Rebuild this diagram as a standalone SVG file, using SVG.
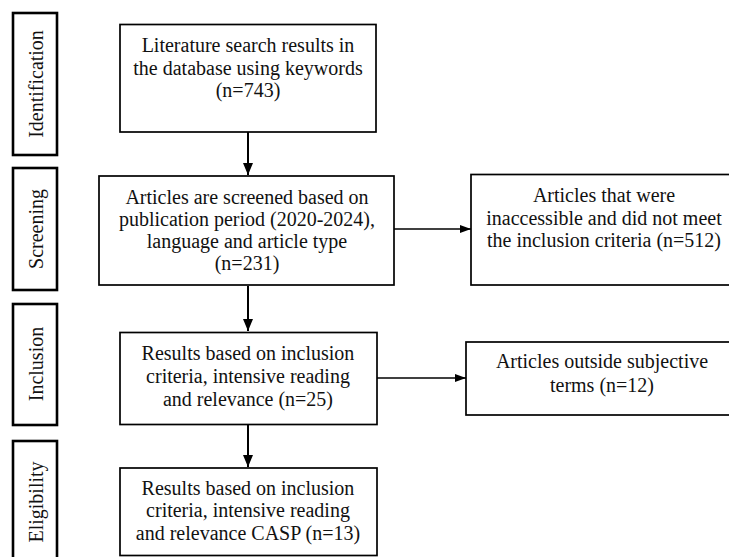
<svg xmlns="http://www.w3.org/2000/svg" width="729" height="557" viewBox="0 0 729 557">
<style>
  .side { fill: #fff; stroke: #000; stroke-width: 2.6; }
  .box { fill: #fff; stroke: #000; stroke-width: 1.7; }
  .t { font-family: "Liberation Serif", "Times New Roman", serif; font-size: 20px; fill: #111; text-anchor: middle; }
  .conn { stroke: #000; stroke-width: 2; fill: none; }
  .connh { stroke: #000; stroke-width: 1.6; fill: none; }
</style>
<defs>
  <marker id="arrV" markerUnits="userSpaceOnUse" markerWidth="12" markerHeight="12" viewBox="0 0 12 12" refX="12" refY="6" orient="auto">
    <path d="M0,1 L12,6 L0,11 Z" fill="#000"/>
  </marker>
  <marker id="arrH" markerUnits="userSpaceOnUse" markerWidth="11" markerHeight="10" viewBox="0 0 11 10" refX="11" refY="5" orient="auto">
    <path d="M0,1 L11,5 L0,9 Z" fill="#000"/>
  </marker>
</defs>
<rect width="729" height="557" fill="#fff"/>

<g id="stage-identification">
  <rect class="side" x="13" y="13" width="44" height="142"/>
  <text class="t" transform="translate(43,84) rotate(-90)">Identification</text>
</g>
<g id="stage-screening">
  <rect class="side" x="13" y="168" width="44" height="122"/>
  <text class="t" transform="translate(43,229) rotate(-90)">Screening</text>
</g>
<g id="stage-inclusion">
  <rect class="side" x="13" y="304" width="44" height="121"/>
  <text class="t" transform="translate(43,364) rotate(-90)">Inclusion</text>
</g>
<g id="stage-eligibility">
  <rect class="side" x="13" y="441" width="44" height="124"/>
  <text class="t" transform="translate(43,502) rotate(-90)">Eligibility</text>
</g>

<g id="connectors">
  <line class="conn" x1="248" y1="132" x2="248" y2="175" marker-end="url(#arrV)"/>
  <line class="connh" x1="394" y1="229" x2="471" y2="229" marker-end="url(#arrH)"/>
  <line class="conn" x1="248" y1="286" x2="248" y2="331" marker-end="url(#arrV)"/>
  <line class="connh" x1="377" y1="378" x2="466" y2="378" marker-end="url(#arrH)"/>
  <line class="conn" x1="248" y1="425" x2="248" y2="467" marker-end="url(#arrV)"/>
</g>

<g id="n-search">
  <rect class="box" x="120" y="24.5" width="256" height="107.5"/>
  <text class="t" x="248" y="52">Literature search results in</text>
  <text class="t" x="248" y="75">the database using keywords</text>
  <text class="t" x="248" y="97">(n=743)</text>
</g>
<g id="n-screened">
  <rect class="box" x="99" y="176" width="295" height="109"/>
  <text class="t" x="247" y="204">Articles are screened based on</text>
  <text class="t" x="247" y="226">publication period (2020-2024),</text>
  <text class="t" x="247" y="248">language and article type</text>
  <text class="t" x="247" y="270">(n=231)</text>
</g>
<g id="n-excluded-512">
  <rect class="box" x="471" y="174.5" width="267" height="110.5"/>
  <text class="t" x="604" y="202">Articles that were</text>
  <text class="t" x="604" y="225">inaccessible and did not meet</text>
  <text class="t" x="604" y="247">the inclusion criteria (n=512)</text>
</g>
<g id="n-included-25">
  <rect class="box" x="120" y="332.5" width="257" height="92"/>
  <text class="t" x="248" y="360">Results based on inclusion</text>
  <text class="t" x="248" y="383">criteria, intensive reading</text>
  <text class="t" x="248" y="406">and relevance (n=25)</text>
</g>
<g id="n-excluded-12">
  <rect class="box" x="466" y="342" width="270" height="73"/>
  <text class="t" x="602" y="368">Articles outside subjective</text>
  <text class="t" x="602" y="392">terms (n=12)</text>
</g>
<g id="n-eligible-13">
  <rect class="box" x="120" y="468" width="257" height="87.5"/>
  <text class="t" x="248" y="495">Results based on inclusion</text>
  <text class="t" x="248" y="517">criteria, intensive reading</text>
  <text class="t" x="248" y="540">and relevance CASP (n=13)</text>
</g>
</svg>
